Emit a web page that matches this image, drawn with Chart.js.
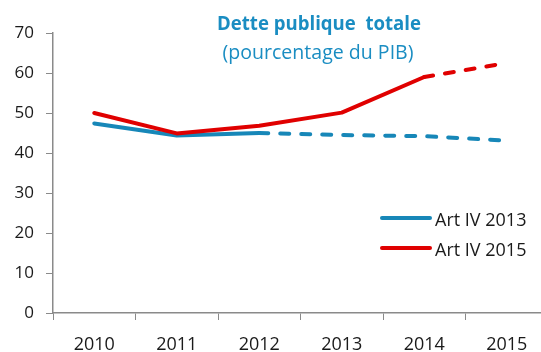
<!DOCTYPE html>
<html>
<head>
<meta charset="utf-8">
<script src="https://cdn.jsdelivr.net/npm/chart.js@4/dist/chart.umd.min.js"></script>
<style>
  html, body { margin: 0; padding: 0; background: #fff; overflow: hidden; }
  #wrap { width: 541px; height: 352px; overflow: hidden; position: relative; }
  canvas { display: block; }
</style>
</head>
<body>
<div id="wrap"><canvas id="c" width="552" height="352"></canvas></div>
<script>
// Dette publique totale, % du PIB
const years = ['2010', '2011', '2012', '2013', '2014', '2015'];
const artIV2013 = [47.4, 44.4, 45.0, 44.5, 44.2, 43.1];
const artIV2015 = [50.0, 44.9, 46.8, 50.1, 59.0, 62.5];
// first index of the projected (dashed) part of each series
const projFrom2013 = 2;
const projFrom2015 = 4;
const yTicks = [0, 10, 20, 30, 40, 50, 60, 70];

const BLUE = '#1787b8';
const RED = '#e00000';
const AXIS = '#8a8a8a';
const FONT = '"Open Sans", "Noto Sans", sans-serif';

const dashAfter = from => ctx => (ctx.p0DataIndex >= from ? [9, 12] : undefined);

// title, subtitle and in-plot legend
const overlay = {
  id: 'overlay',
  afterDraw(chart) {
    const ctx = chart.ctx;
    ctx.save();
    ctx.fillStyle = '#1a8dc2';
    ctx.textAlign = 'center';
    ctx.textBaseline = 'alphabetic';
    ctx.font = 'bold 20px ' + FONT;
    ctx.fillText('Dette publique  totale', 319, 30, 204);
    ctx.font = '20px ' + FONT;
    ctx.fillText('(pourcentage du PIB)', 318, 59, 191);

    const items = [
      { label: 'Art IV 2013', color: BLUE, y: 218 },
      { label: 'Art IV 2015', color: RED, y: 248 }
    ];
    ctx.textAlign = 'left';
    ctx.font = '18px ' + FONT;
    items.forEach(it => {
      ctx.strokeStyle = it.color;
      ctx.lineWidth = 4;
      ctx.lineCap = 'round';
      ctx.beginPath();
      ctx.moveTo(382, it.y);
      ctx.lineTo(430, it.y);
      ctx.stroke();
      ctx.fillStyle = '#1a1a1a';
      ctx.fillText(it.label, 435, it.y + 8, 93);
    });
    ctx.restore();
  }
};

new Chart(document.getElementById('c'), {
  type: 'line',
  data: {
    labels: years,
    datasets: [
      {
        label: 'Art IV 2013',
        data: artIV2013,
        borderColor: BLUE,
        backgroundColor: BLUE,
        borderWidth: 4,
        order: 2,
        segment: { borderDash: dashAfter(projFrom2013) }
      },
      {
        label: 'Art IV 2015',
        data: artIV2015,
        borderColor: RED,
        backgroundColor: RED,
        borderWidth: 4,
        order: 1,
        segment: { borderDash: dashAfter(projFrom2015) }
      }
    ]
  },
  options: {
    responsive: false,
    animation: false,
    devicePixelRatio: 1,
    layout: { padding: { top: 33, right: 4, left: 0, bottom: 0 } },
    elements: {
      point: { radius: 0, hoverRadius: 0 },
      line: { tension: 0, borderCapStyle: 'round', borderJoinStyle: 'round' }
    },
    plugins: {
      legend: { display: false },
      title: { display: false },
      tooltip: { enabled: false }
    },
    scales: {
      x: {
        offset: true,
        grid: { offset: true, drawOnChartArea: false, tickLength: 7, color: AXIS },
        border: { color: AXIS, width: 1.5 },
        ticks: { font: { family: FONT, size: 18 }, color: '#1a1a1a', padding: 14, maxRotation: 0 },
        afterFit(scale) { scale.height = 39; }
      },
      y: {
        min: 0,
        max: 70,
        afterBuildTicks(scale) { scale.ticks = yTicks.map(v => ({ value: v })); },
        grid: { drawOnChartArea: false, tickLength: 7, color: AXIS },
        border: { color: AXIS, width: 1.5 },
        ticks: { font: { family: FONT, size: 17 }, color: '#1a1a1a', padding: 12 },
        afterFit(scale) { scale.width = 53; }
      }
    }
  },
  plugins: [overlay]
});
</script>
</body>
</html>
